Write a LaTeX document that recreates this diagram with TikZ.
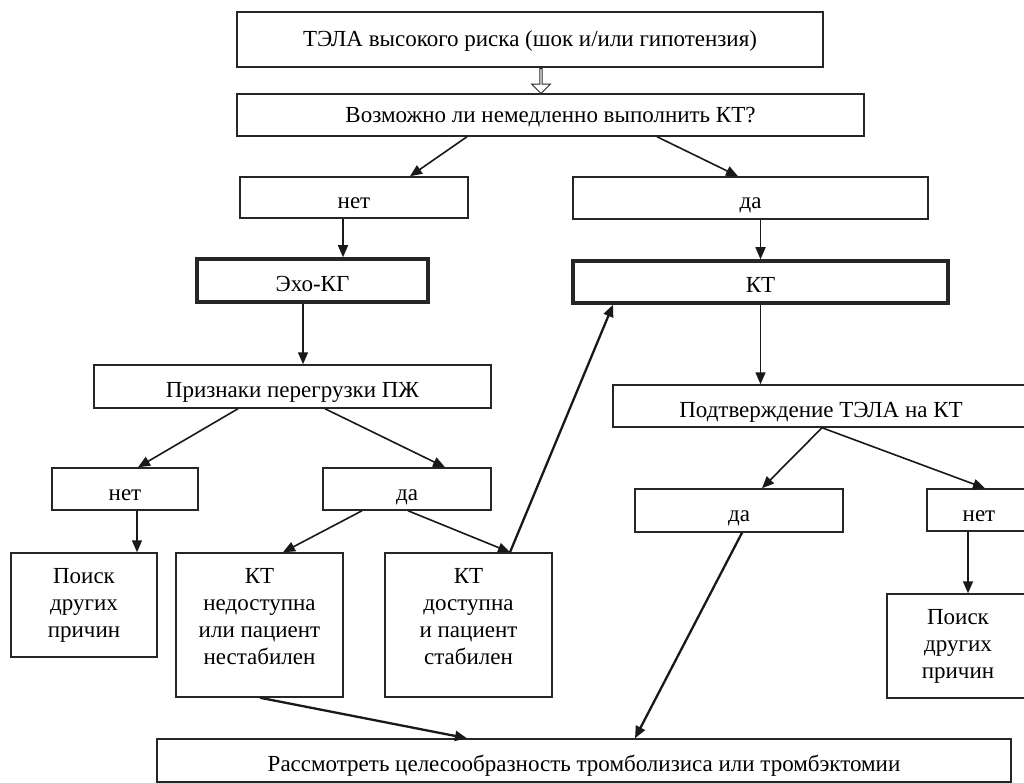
\documentclass[tikz,border=0pt]{standalone}
\usepackage{fontspec}
\setmainfont{Liberation Serif}
\usetikzlibrary{arrows.meta,shapes.arrows}

\tikzset{
  box/.style={draw=black!85, line width=1.5pt, inner sep=0pt, align=center,
    font=\fontsize{23}{27}\selectfont},
  onebox/.style={box, text height=26pt, text depth=4pt},
  headbox/.style={box, text height=19pt, text depth=4pt},
  thickbox/.style={onebox, line width=3.5pt},
  tallbox/.style={box, text depth=18pt},
  flow/.style={->, line width=1.6pt, color=black!90},
  heavy/.style={flow, line width=2.3pt},
}

\begin{document}
\begin{tikzpicture}[x=1pt, y=-1pt, >={Triangle[length=12pt,width=10pt]}]
	\useasboundingbox (0,0) rectangle (1024,783);
	% top of the chart
	\node[headbox, minimum width=586, minimum height=55] (risk) at (530,39.5) {ТЭЛА высокого риска (шок и/или гипотензия)};
	\node[single arrow, draw=black!85, line width=1pt, rotate=-90, minimum height=25, minimum width=19,
		single arrow head extend=4pt, inner sep=0pt] (hollow) at (541,80.5) {};
	\node[headbox, minimum width=627, minimum height=42] (ask) at (550.5,115) {Возможно ли немедленно выполнить КТ?};
	% first answer
	\node[onebox, minimum width=228, minimum height=41] (no1) at (354,197.5) {нет};
	\node[onebox, minimum width=355, minimum height=42] (yes1) at (750.5,198) {да};
	\node[thickbox, minimum width=231, minimum height=43] (echo) at (312.5,280.5) {Эхо-КГ};
	\node[thickbox, minimum width=375, minimum height=42] (ct) at (760.5,282) {КТ};
	\node[onebox, minimum width=397, minimum height=43] (rv) at (292.5,386.5) {Признаки перегрузки ПЖ};
	\node[onebox, minimum width=416, minimum height=42] (conf) at (821,406) {Подтверждение ТЭЛА на КТ};
	% second level
	\node[onebox, minimum width=146, minimum height=42] (no2) at (125,489) {нет};
	\node[onebox, minimum width=168, minimum height=42] (yes2) at (407,489) {да};
	\node[onebox, minimum width=208, minimum height=43] (yes3) at (739,510.5) {да};
	\node[onebox, minimum width=104, minimum height=42] (no3) at (979,510) {нет};
	\node[box, minimum width=146, minimum height=104] (other1) at (84,605) {Поиск\\других\\причин};
	\node[tallbox, minimum width=167, minimum height=144] (unst) at (259.5,625) {КТ\\недоступна\\или пациент\\нестабилен};
	\node[tallbox, minimum width=167, minimum height=144] (stab) at (468.5,625) {КТ\\доступна\\и пациент\\стабилен};
	\node[box, minimum width=142, minimum height=104] (other2) at (958,646) {Поиск\\других\\причин};
	\node[onebox, minimum width=854, minimum height=43] (act) at (584,760.5) {Рассмотреть целесообразность тромболизиса или тромбэктомии};

	\path[flow]
	([xshift=-83.5pt]ask.south) edge ([xshift=56pt]no1.north)
	([xshift=106.5pt]ask.south) edge ([xshift=-12.5pt]yes1.north)
	([xshift=-11pt]no1.south) edge ([xshift=-11pt]no1.south |- echo.north)
	([xshift=10pt]yes1.south) edge ([xshift=10pt]yes1.south |- ct.north)
	([xshift=-9.5pt]echo.south) edge ([xshift=-9.5pt]echo.south |- rv.north)
	(ct.south) edge (ct.south |- conf.north)
	([xshift=-54.5pt]rv.south) edge ([xshift=13pt]no2.north)
	([xshift=32.5pt]rv.south) edge ([xshift=38pt]yes2.north)
	([xshift=12pt]no2.south) edge ([xshift=12pt]no2.south |- other1.north)
	([xshift=-45pt]yes2.south) edge ([xshift=23.5pt]unst.north)
	([xshift=1pt]yes2.south) edge ([xshift=41.5pt]stab.north)
	([xshift=1pt]conf.south) edge ([xshift=23pt]yes3.north)
	([xshift=1pt]conf.south) edge ([xshift=6pt]no3.north)
	([xshift=-11pt]no3.south) edge ([xshift=-11pt]no3.south |- other2.north)
	;
	\path[heavy]
	([xshift=41.5pt]stab.north) edge ([xshift=-147.5pt]ct.south)
	([xshift=3pt]yes3.south) edge ([xshift=51pt]act.north)
	([xshift=0.5pt]unst.south) edge ([xshift=-117pt]act.north)
	;
\end{tikzpicture}
\end{document}
